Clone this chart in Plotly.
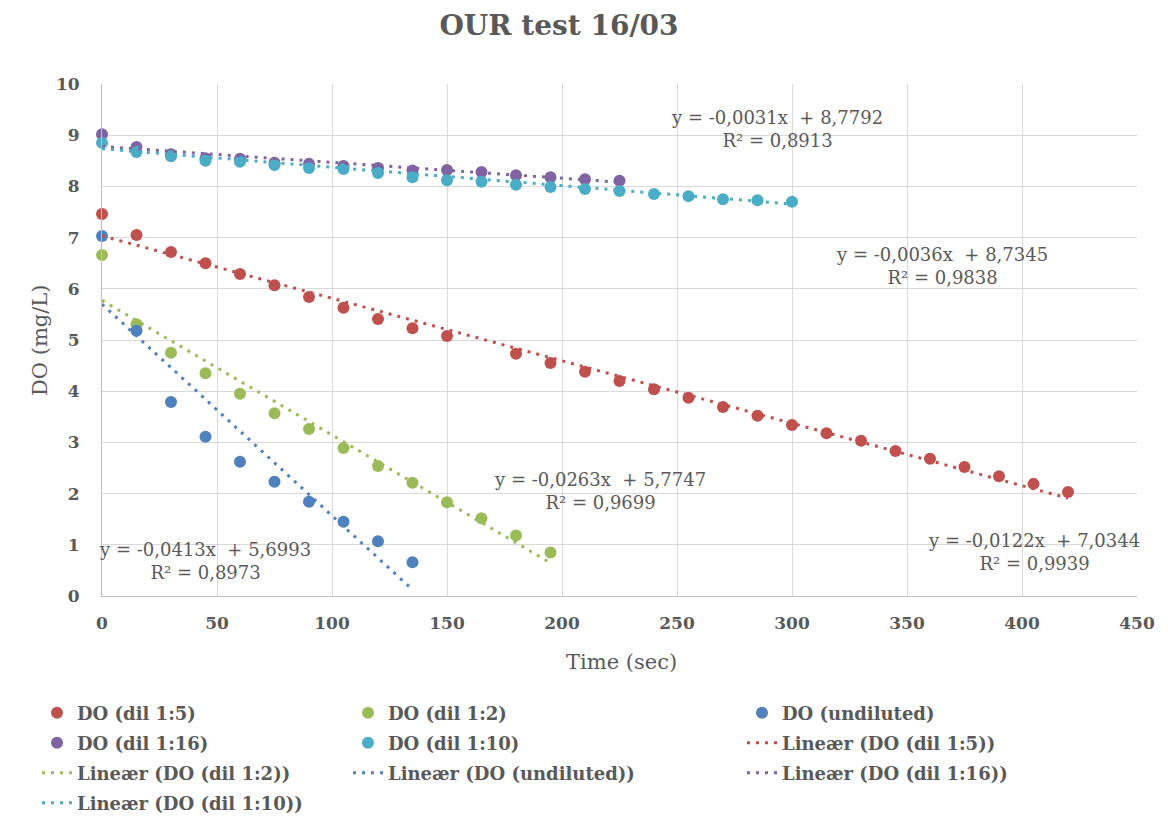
import plotly.graph_objects as go

# ---------------- data ----------------
t_15 = [0, 15, 30, 45, 60, 75, 90, 105, 120, 135, 150, 180, 195, 210, 225, 240,
        255, 270, 285, 300, 315, 330, 345, 360, 375, 390, 405, 420]
do_15 = [7.46, 7.05, 6.72, 6.50, 6.29, 6.07, 5.84, 5.63, 5.41, 5.23, 5.08, 4.73,
         4.55, 4.38, 4.20, 4.04, 3.87, 3.69, 3.52, 3.34, 3.18, 3.03, 2.83, 2.68,
         2.52, 2.34, 2.19, 2.03]

t_12 = [0, 15, 30, 45, 60, 75, 90, 105, 120, 135, 150, 165, 180, 195]
do_12 = [6.66, 5.31, 4.75, 4.35, 3.95, 3.57, 3.26, 2.89, 2.54, 2.21, 1.83, 1.52,
         1.18, 0.85]

t_und = [0, 15, 30, 45, 60, 75, 90, 105, 120, 135]
do_und = [7.03, 5.18, 3.79, 3.11, 2.62, 2.23, 1.84, 1.45, 1.07, 0.66]

t_116 = [0, 15, 30, 45, 60, 75, 90, 105, 120, 135, 150, 165, 180, 195, 210, 225]
do_116 = [9.02, 8.77, 8.63, 8.55, 8.54, 8.46, 8.44, 8.40, 8.36, 8.31, 8.32, 8.28,
          8.22, 8.18, 8.14, 8.11]

t_110 = [0, 15, 30, 45, 60, 75, 90, 105, 120, 135, 150, 165, 180, 195, 210, 225,
         240, 255, 270, 285, 300]
do_110 = [8.85, 8.67, 8.59, 8.50, 8.48, 8.42, 8.36, 8.34, 8.26, 8.18, 8.12, 8.09,
          8.03, 7.99, 7.95, 7.91, 7.85, 7.81, 7.75, 7.73, 7.70]

# trendline coefficients (as printed on the chart)
names = ["DO (dil 1:5)", "DO (dil 1:2)", "DO (undiluted)", "DO (dil 1:16)", "DO (dil 1:10)"]
slopes = [-0.0122, -0.0263, -0.0413, -0.0031, -0.0036]
intercepts = [7.0344, 5.7747, 5.6993, 8.7792, 8.7345]
r2 = ["0,9939", "0,9699", "0,8973", "0,8913", "0,9838"]
eq_slope_txt = ["-0,0122", "-0,0263", "-0,0413", "-0,0031", "-0,0036"]
eq_int_txt = ["7,0344", "5,7747", "5,6993", "8,7792", "8,7345"]
# label anchor positions (data coords)
lab_x = [405, 216.5, 44.8, 293.5, 365]
lab_y = [0.86, 2.05, 0.68, 9.12, 6.45]

times = [t_15, t_12, t_und, t_116, t_110]
values = [do_15, do_12, do_und, do_116, do_110]
colors = ["#C0504D", "#9BBB59", "#4F81BD", "#8064A2", "#4BACC6"]

FONT = "DejaVu Serif"
GREY = "#595959"

# legend grid (pixel layout of the bottom legend: 3 columns x 4 rows)
COL_PX = [37, 348, 742]
ROW_PX = [713, 743, 773, 803]
PLOT_L, PLOT_R, PLOT_T, PLOT_B = 102, 1137, 84, 596


def px_to_paper(px, py):
    return ((px - PLOT_L) / (PLOT_R - PLOT_L), (PLOT_B - py) / (PLOT_B - PLOT_T))


fig = go.Figure()
legend_layout = {}
entry = 0


def next_legend():
    global entry
    key = "legend" if entry == 0 else "legend%d" % (entry + 1)
    col, row = entry % 3, entry // 3
    lx, ly = px_to_paper(COL_PX[col], ROW_PX[row])
    legend_layout[key] = dict(x=lx, y=ly, xanchor="left", yanchor="middle",
                              orientation="v", bgcolor="rgba(0,0,0,0)",
                              font=dict(family=FONT, size=18, color=GREY, weight="bold"),
                              itemwidth=30)
    entry += 1
    return key


for i in range(5):
    fig.add_trace(go.Scatter(
        x=times[i], y=values[i], mode="markers", name=names[i],
        marker=dict(color=colors[i], size=12), showlegend=True,
        cliponaxis=False, legend=next_legend()))

for i in range(5):
    x0, x1 = min(times[i]), max(times[i])
    fig.add_trace(go.Scatter(
        x=[x0, x1], y=[intercepts[i] + slopes[i] * x0, intercepts[i] + slopes[i] * x1],
        mode="lines", name="Lineær (" + names[i] + ")", showlegend=True,
        line=dict(color=colors[i], width=3, dash="3px,6px"),
        legend=next_legend()))

for i in range(5):
    fig.add_annotation(
        x=lab_x[i], y=lab_y[i], xref="x", yref="y",
        text="y = " + eq_slope_txt[i] + "x\u00a0 + " + eq_int_txt[i] + "<br>R² = " + r2[i],
        showarrow=False, align="center",
        font=dict(family=FONT, size=18, color=GREY))

# axis titles
tx, ty = px_to_paper(621, 662)
fig.add_annotation(x=tx, y=ty, xref="paper", yref="paper", text="Time (sec)",
                   showarrow=False, xanchor="center", yanchor="middle",
                   font=dict(family=FONT, size=21, color=GREY))
yx, yy = px_to_paper(40, 340)
fig.add_annotation(x=yx, y=yy, xref="paper", yref="paper", text="DO (mg/L)",
                   showarrow=False, xanchor="center", yanchor="middle", textangle=-90,
                   font=dict(family=FONT, size=21, color=GREY))

fig.update_layout(
    width=1168, height=823, showlegend=True,
    margin=dict(l=PLOT_L, r=1168 - PLOT_R, t=PLOT_T, b=823 - PLOT_B, autoexpand=False),
    paper_bgcolor="white", plot_bgcolor="white",
    title=dict(text="<b>OUR test 16/03</b>", x=559 / 1168, xanchor="center",
               y=1 - 25 / 823, yanchor="middle",
               font=dict(family=FONT, size=28, color=GREY)),
    xaxis=dict(range=[0, 450], dtick=50, showgrid=True, gridcolor="#D9D9D9",
               gridwidth=1, showline=True, linecolor="#BFBFBF", zeroline=False,
               ticks="", ticklabelstandoff=12,
               tickfont=dict(family=FONT, size=17, color=GREY, weight="bold")),
    yaxis=dict(range=[0, 10], dtick=1, showgrid=True, gridcolor="#D9D9D9",
               gridwidth=1, showline=True, linecolor="#BFBFBF", zeroline=False,
               ticks="", ticklabelstandoff=18,
               tickfont=dict(family=FONT, size=17, color=GREY, weight="bold")),
    **legend_layout,
)

fig.write_html("out.html")
